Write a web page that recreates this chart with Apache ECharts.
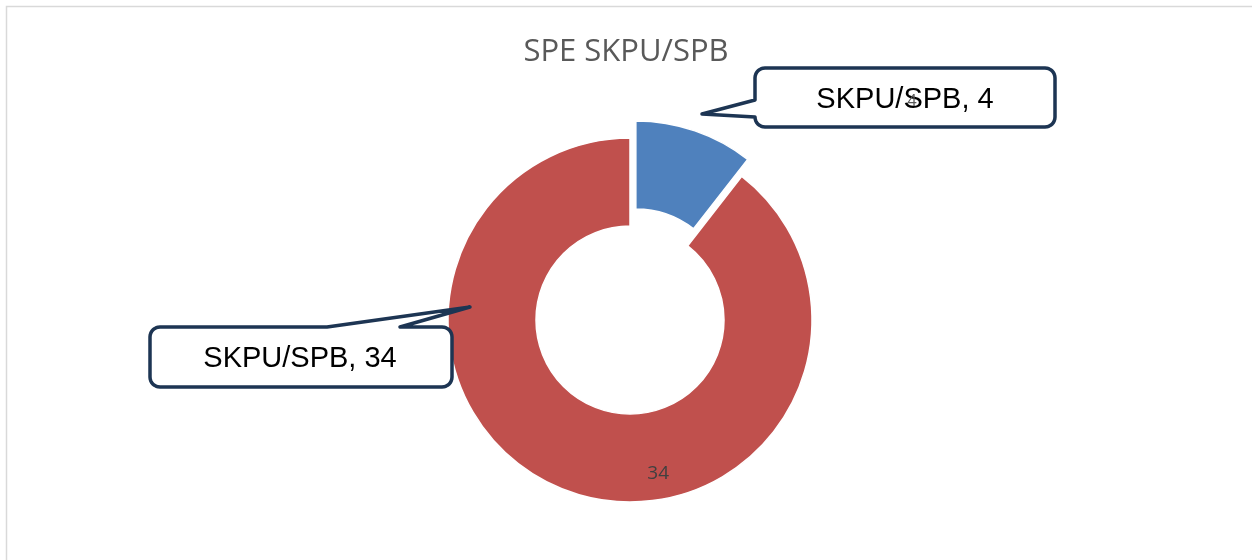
<!DOCTYPE html>
<html>
<head>
<meta charset="utf-8">
<script src="https://cdn.jsdelivr.net/npm/echarts@6/dist/echarts.min.js"></script>
<style>
  html, body { margin: 0; padding: 0; background: #fff; }
  #chart { width: 1252px; height: 560px; }
</style>
</head>
<body>
<div id="chart"></div>
<script>
// 数据
const sliceNames = ['SKPU/SPB', 'SKPU/SPB'];
const sliceValues = [4, 34];
const sliceColors = ['#4f81bd', '#c0504d'];
const explode = [18, 0];          // 扇区分离距离
// 数据标签偏移（Excel 的标签位置）
const labelOffsets = [[0, 0], [74, 20]];

const chart = echarts.init(document.getElementById('chart'));

const CX = 630, CY = 320;
const total = sliceValues.reduce((a, b) => a + b, 0);

// 每个扇区单独一个系列，方便做分离效果
function sliceSeries(k) {
  const before = sliceValues.slice(0, k).reduce((a, b) => a + b, 0);
  const mid = (before + sliceValues[k] / 2) / total * 2 * Math.PI;
  const cx = CX + explode[k] * Math.sin(mid);
  const cy = CY - explode[k] * Math.cos(mid);
  return {
    type: 'pie',
    center: [cx, cy],
    radius: [94, 182],
    startAngle: 90,
    clockwise: true,
    avoidLabelOverlap: false,
    silent: true,
    label: {
      show: k !== 0,
      position: 'inside',
      formatter: '{c}',
      fontFamily: '"Open Sans", sans-serif',
      fontSize: 19,
      color: '#404040'
    },
    labelLayout: function (params) {
      const o = labelOffsets[params.dataIndex];
      return { dx: o[0], dy: o[1] };
    },
    labelLine: { show: false },
    emphasis: { disabled: true },
    data: sliceValues.map((v, i) => ({
      name: sliceNames[i],
      value: v,
      itemStyle: i === k
        ? { color: sliceColors[i], borderColor: '#fff', borderWidth: 1.5 }
        : { color: 'transparent', borderWidth: 0 },
      label: { show: i === k && k !== 0 }
    }))
  };
}

// 圆角的点
function arc(cx, cy, r, a0, a1) {
  const pts = [];
  for (let k = 0; k <= 8; k++) {
    const a = (a0 + (a1 - a0) * k / 8) * Math.PI / 180;
    pts.push([cx + r * Math.cos(a), cy + r * Math.sin(a)]);
  }
  return pts;
}

// 气泡标注的外形
const bubbleTop = [].concat(
  arc(765, 78, 10, 180, 270),
  arc(1045, 78, 10, 270, 360),
  arc(1045, 117, 10, 0, 90),
  arc(765, 117, 10, 90, 180),
  [[702, 114], [755, 100]]
);
const bubbleLeft = [].concat(
  arc(160, 337, 10, 180, 270),
  [[327, 327], [470, 307], [400, 327]],
  arc(442, 337, 10, 270, 360),
  arc(442, 377, 10, 0, 90),
  arc(160, 377, 10, 90, 180)
);

const calloutStyle = { fill: '#fff', stroke: '#1d3553', lineWidth: 3.5, lineJoin: 'round' };
const calloutText = {
  fontFamily: '"Liberation Sans", Arial, sans-serif',
  fontSize: 29,
  fill: '#000',
  align: 'center',
  verticalAlign: 'middle'
};

const option = {
  animation: false,
  backgroundColor: '#fff',
  title: {
    text: 'SPE SKPU/SPB',
    left: 'center',
    top: 32,
    textStyle: {
      fontFamily: '"Open Sans", sans-serif',
      fontSize: 31,
      fontWeight: 'normal',
      color: '#595959'
    }
  },
  series: sliceValues.map((v, k) => sliceSeries(k)),
  graphic: [
    {
      type: 'rect',
      silent: true,
      shape: { x: 6.5, y: 6.5, width: 1300, height: 600 },
      style: { fill: 'none', stroke: '#d9d9d9', lineWidth: 1.5 }
    },
    {
      type: 'polygon',
      z: 100,
      shape: { points: bubbleTop },
      style: calloutStyle
    },
    {
      type: 'polygon',
      z: 100,
      shape: { points: bubbleLeft },
      style: calloutStyle
    },
    {
      type: 'text',
      z: 101,
      x: 905,
      y: 100,
      style: Object.assign({ text: sliceNames[0] + ', ' + sliceValues[0] }, calloutText)
    },
    {
      type: 'text',
      z: 101,
      x: 300,
      y: 359,
      style: Object.assign({ text: sliceNames[1] + ', ' + sliceValues[1] }, calloutText)
    },
    {
      // 蓝色扇区的数值标签落在标注上
      type: 'text',
      z: 102,
      x: 912,
      y: 101,
      silent: true,
      style: {
        text: String(sliceValues[0]),
        fontFamily: '"Open Sans", sans-serif',
        fontSize: 16,
        fill: '#595959',
        align: 'center',
        verticalAlign: 'middle'
      }
    }
  ]
};

chart.setOption(option);
window.addEventListener('resize', () => chart.resize());
</script>
</body>
</html>
